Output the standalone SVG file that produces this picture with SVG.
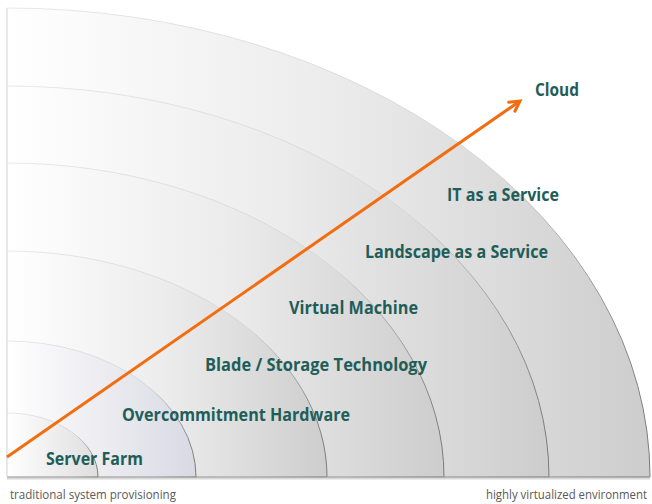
<svg xmlns="http://www.w3.org/2000/svg" width="652" height="504" viewBox="0 0 652 504">
<defs>
<linearGradient id="fillG" x1="0" y1="0" x2="1" y2="0">
<stop offset="0" stop-color="#ffffff"/>
<stop offset="0.5" stop-color="#ececec"/>
<stop offset="1" stop-color="#cdcdcd"/>
</linearGradient>
<linearGradient id="fillB" x1="0" y1="0" x2="1" y2="0">
<stop offset="0" stop-color="#ffffff"/>
<stop offset="0.5" stop-color="#ececf1"/>
<stop offset="1" stop-color="#d9d9e4"/>
</linearGradient>
<linearGradient id="fillS" x1="0" y1="0" x2="1" y2="0">
<stop offset="0" stop-color="#ffffff"/>
<stop offset="1" stop-color="#dedede"/>
</linearGradient>
<linearGradient id="strokeG" x1="0" y1="0" x2="1" y2="0">
<stop offset="0" stop-color="#e8e8e8"/>
<stop offset="0.75" stop-color="#d6d6d6"/>
<stop offset="1" stop-color="#7a7a7a"/>
</linearGradient>
<marker id="arrow" markerUnits="userSpaceOnUse" markerWidth="16" markerHeight="16" refX="13" refY="8" orient="auto">
<path d="M3,2.5 L13,8 L3,13.5" fill="none" stroke="#f26c10" stroke-width="3" stroke-linecap="round" stroke-linejoin="miter"/>
</marker>
</defs>
<style>
.ring{stroke:url(#strokeG);stroke-width:1}
.lbl{font-family:"Open Sans","Liberation Sans",sans-serif;font-weight:bold;font-size:17px;fill:#1f5e58}
.ax{font-family:"Open Sans","Liberation Sans",sans-serif;font-size:12px;fill:#595959}
</style>
<rect width="652" height="504" fill="#ffffff"/>
<g id="ring-it-service"><path class="ring" fill="url(#fillG)" d="M7,477 L7,8 A643,469 0 0 1 650,477 Z"/></g>
<g id="ring-landscape"><path class="ring" fill="url(#fillG)" d="M7,477 L7,86 A542,391 0 0 1 549,477 Z"/></g>
<g id="ring-virtual-machine"><path class="ring" fill="url(#fillG)" d="M7,477 L7,163 A437,314 0 0 1 444,477 Z"/></g>
<g id="ring-blade"><path class="ring" fill="url(#fillG)" d="M7,477 L7,251 A320,226 0 0 1 327,477 Z"/></g>
<g id="ring-overcommitment"><path class="ring" fill="url(#fillB)" d="M7,477 L7,341 A189,136 0 0 1 196,477 Z"/></g>
<g id="ring-server-farm"><path class="ring" fill="url(#fillS)" d="M7,477 L7,413 A91,64 0 0 1 98,477 Z"/></g>
<g id="axes">
<line x1="7" y1="478.5" x2="650" y2="478.5" stroke="#d8d8d8" stroke-width="2"/>
<line x1="7" y1="477" x2="650" y2="477" stroke="#9a9a9a" stroke-width="1.2"/>
<line x1="7" y1="8" x2="7" y2="477" stroke="#e2e2e2" stroke-width="1.2"/>
</g>
<g id="connectors">
<line x1="7" y1="457" x2="520" y2="101" stroke="#f26c10" stroke-width="3" marker-end="url(#arrow)"/>
</g>
<g id="labels">
<text class="lbl" x="535" y="96" textLength="44" lengthAdjust="spacingAndGlyphs">Cloud</text>
<text class="lbl" x="447" y="201" textLength="112" lengthAdjust="spacingAndGlyphs">IT as a Service</text>
<text class="lbl" x="365" y="258" textLength="183" lengthAdjust="spacingAndGlyphs">Landscape as a Service</text>
<text class="lbl" x="289" y="314" textLength="129" lengthAdjust="spacingAndGlyphs">Virtual Machine</text>
<text class="lbl" x="205" y="371" textLength="222" lengthAdjust="spacingAndGlyphs">Blade / Storage Technology</text>
<text class="lbl" x="122" y="421" textLength="228" lengthAdjust="spacingAndGlyphs">Overcommitment Hardware</text>
<text class="lbl" x="46" y="465" textLength="97" lengthAdjust="spacingAndGlyphs">Server Farm</text>
<text class="ax" x="10" y="499" textLength="166" lengthAdjust="spacingAndGlyphs">traditional system provisioning</text>
<text class="ax" x="486" y="499" textLength="161" lengthAdjust="spacingAndGlyphs">highly virtualized environment</text>
</g>
</svg>
